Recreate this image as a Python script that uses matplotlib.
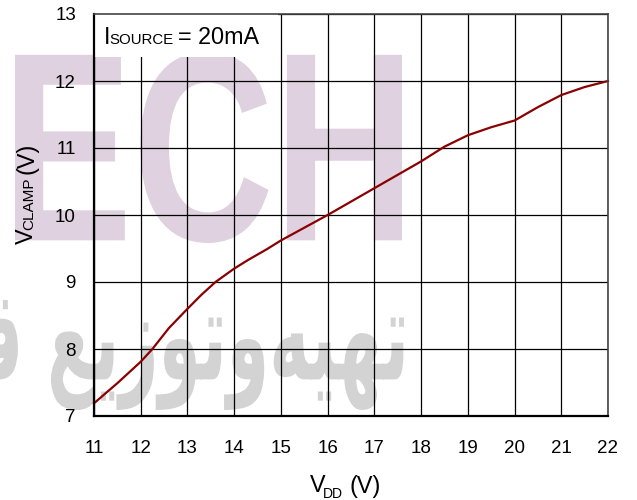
import matplotlib
matplotlib.use("Agg")
import matplotlib.pyplot as plt
from matplotlib.textpath import TextPath
from matplotlib.patches import PathPatch, Rectangle
from matplotlib.font_manager import FontProperties
from matplotlib.transforms import Affine2D

# ---- data ----
vdd = [11, 11.5, 12, 12.25, 12.6, 13, 13.3, 13.6, 14, 14.3, 14.7, 15, 15.5, 16,
       16.5, 17, 17.5, 18, 18.5, 19, 19.5, 20, 20.5, 21, 21.5, 22]
vclamp = [7.19, 7.49, 7.81, 8.0, 8.31, 8.6, 8.81, 9.0, 9.2, 9.33, 9.49, 9.62, 9.81, 10.0,
          10.2, 10.4, 10.6, 10.8, 11.02, 11.19, 11.31, 11.41, 11.61, 11.79, 11.91, 12.0]
xticks = [11, 12, 13, 14, 15, 16, 17, 18, 19, 20, 21, 22]
yticks = [7, 8, 9, 10, 11, 12, 13]
ann_parts = ["I", "SOURCE", "= 20mA"]
xlabel_parts = ["V", "DD", "(V)"]
ylabel_parts = ["V", "CLAMP", "(V)"]
watermark_latin = "ECH"
watermark_arabic = "\uFED7 \uFECA\uFEF3\uFEAF\uFEEE\uFE97\uFEED\uFEEA\uFEF4\uFEEC\uFE97"

plt.rcParams['font.family'] = ['Liberation Sans', 'DejaVu Sans']

W, H = 637, 500
fig = plt.figure(figsize=(W / 100, H / 100), dpi=100, facecolor='white')
renderer = fig.canvas.get_renderer()


def px_patch(s, prop, x0, x1, y0, y1, color):
    tp = TextPath((0, 0), s, size=100, prop=prop)
    ext = tp.get_extents()
    sx = (x1 - x0) / ext.width
    sy = (y1 - y0) / ext.height
    tr = (Affine2D().translate(-ext.x0, -ext.y0).scale(sx / W, sy / H)
          .translate(x0 / W, 1 - y1 / H) + fig.transFigure)
    p = PathPatch(tp, transform=tr, fc=color, ec='none', zorder=0)
    fig.add_artist(p)


def chain_h(parts, x_start, baseline, specs, zorder=4):
    """parts placed left to right; specs = list of (fontsize, baseline_drop_px, gap_after_px)."""
    x = x_start
    for s, (fs, drop, gap) in zip(parts, specs):
        tx = fig.text(x / W, 1 - (baseline + drop) / H, s, fontsize=fs,
                      ha='left', va='baseline', zorder=zorder)
        bb = tx.get_window_extent(renderer)
        x = bb.x1 + gap


def chain_v(parts, baseline_x, y_start, specs):
    """rotated 90 deg, placed bottom to top; y in top-origin pixels."""
    yd = H - y_start
    for s, (fs, drop, gap) in zip(parts, specs):
        tx = fig.text((baseline_x + drop) / W, yd / H, s, fontsize=fs, rotation=90,
                      rotation_mode='anchor', ha='left', va='baseline')
        bb = tx.get_window_extent(renderer)
        yd = bb.y1 + gap


# watermarks
px_patch(watermark_latin, FontProperties(family='Liberation Sans', weight='bold'),
         15, 402, 52, 243, '#dfd1df')
px_patch(watermark_arabic, FontProperties(family='DejaVu Sans', weight='bold'),
         -22, 404, 300, 410, '#d3d3d3')

l, r, t, b = 94, 608, 14, 416
ax = fig.add_axes([l / W, 1 - b / H, (r - l) / W, (b - t) / H])
ax.set_facecolor('none')
ax.set_zorder(1)

ax.plot(vdd, vclamp, color='#8b0000', lw=1.6, zorder=5, clip_on=False)

ax.set_xlim(11, 22)
ax.set_ylim(7, 13)
ax.set_xticks(xticks)
ax.set_yticks(yticks)
ax.grid(True, color='black', lw=0.9)
ax.tick_params(axis='both', length=0, labelsize=13.5)
ax.tick_params(axis='x', pad=17)
ax.tick_params(axis='y', pad=13)

for s in ['left', 'bottom']:
    ax.spines[s].set_linewidth(1.6)
for s in ['top', 'right']:
    ax.spines[s].set_linewidth(1.2)
    ax.spines[s].set_color('#444444')
for s in ax.spines.values():
    s.set_zorder(6)

# white box behind annotation
ax.add_patch(Rectangle((0, 1 - 43 / 402), 184 / 514, 43 / 402, transform=ax.transAxes,
                       fc='white', ec='none', zorder=3))

# annotation: I_SOURCE = 20mA (subscript on the same baseline)
chain_h(ann_parts, 104, 43.7, [(16.8, 0, -1.5), (10.8, 0, 4.5), (16.8, 0, 0)])

# x label: V_DD (V)
chain_h(xlabel_parts, 309.5, 492.5, [(16.8, 0, -2.5), (10.0, 6, 7.0), (16.8, 0, 0)])

# y label: V_CLAMP (V), rotated
chain_v(ylabel_parts, 33, 243.5, [(16.8, 0, -2.5), (11.0, 0, 4.0), (16.8, 0, 0)])

fig.savefig('out.png', dpi=100, facecolor='white')
